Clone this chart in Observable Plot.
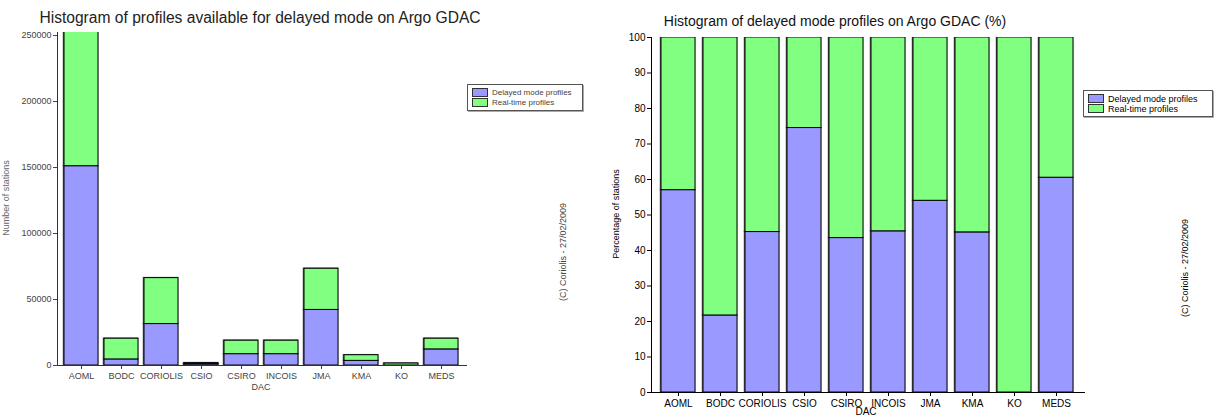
<!DOCTYPE html>
<html><head><meta charset="utf-8">
<script src="https://cdn.jsdelivr.net/npm/d3@7"></script>
<script src="https://cdn.jsdelivr.net/npm/@observablehq/plot@0.6"></script>
<style>
body{margin:0;background:#fff;font-family:"Liberation Sans",Arial,sans-serif;}
#wrap{position:relative;width:1215px;height:418px;overflow:hidden;background:#fff;}
.abs{position:absolute;white-space:nowrap;line-height:1;}
.title{color:#111;}
.rot{transform:translate(-50%,-50%) rotate(-90deg);}
.legend{position:absolute;background:#fff;border:1px solid #555;box-shadow:1px 1px 0 #aaa;padding:2px 4px;}
.legend .row{display:flex;align-items:center;height:9px;margin:1px 0;}
.legend .sw{width:14px;height:7px;border:1px solid #333;margin-right:4px;}
svg{position:absolute;top:0;}
</style></head><body><div id="wrap"></div><script>
const dacs = ["AOML","BODC","CORIOLIS","CSIO","CSIRO","INCOIS","JMA","KMA","KO","MEDS"];
const seriesNames = ["Delayed mode profiles","Real-time profiles"];
const seriesColors = ["#9999ff","#80ff80"];
// Left chart: number of stations
const delayedCounts  = [151000, 4600, 31400, 1000, 8600, 8600, 42100, 3500, 0, 12200];
const realtimeCounts = [114000,15700, 34800,  800,10200,10200, 31200, 4300, 1500, 8100];
const countTicks = [0, 50000, 100000, 150000, 200000, 250000];
// Right chart: percentage of stations
const delayedPct  = [57.0, 21.7, 45.2, 74.5, 43.5, 45.4, 54.0, 45.1, 0, 60.5];
const realtimePct = [43.0, 78.3, 54.8, 25.5, 56.5, 54.6, 46.0, 54.9, 100, 39.5];
const pctTicks = [0,10,20,30,40,50,60,70,80,90,100];

function rowsOf(a, b){
  return [...dacs.map((d,i)=>({dac:d, series:seriesNames[0], value:a[i]})),
          ...dacs.map((d,i)=>({dac:d, series:seriesNames[1], value:b[i]}))];
}
const wrap = document.getElementById("wrap");

function makeChart(o){
  const svg = Plot.plot({
    width:o.width, height:418,
    marginTop:o.mt, marginRight:o.mr, marginBottom:o.mb, marginLeft:o.ml,
    style:{fontFamily:"'Liberation Sans',Arial,sans-serif", fontSize:o.fs, color:o.color, background:"transparent"},
    x:{domain:dacs, padding:o.pad, label:null},
    y:{domain:o.ydom, label:null},
    color:{domain:seriesNames, range:seriesColors},
    marks:[
      Plot.barY(o.rows,{x:"dac", y:"value", fill:"series", stroke:"#555", strokeWidth:1.5, dx:-0.5, clip:true}),
      Plot.barY(o.rows,{x:"dac", y:"value", fill:"series", stroke:"#000", strokeWidth:1, clip:true}),
      Plot.axisY({ticks:o.ticks, tickSize:4, tickPadding:2, tickFormat:d=>String(d), label:null}),
      Plot.axisX({tickSize:4, tickPadding:3, label:null}),
      Plot.frame({anchor:"left", stroke:o.axisColor}),
      Plot.frame({anchor:"bottom", stroke:o.axisColor})
    ]
  });
  svg.style.left = o.left + "px";
  wrap.appendChild(svg);
}

makeChart({left:0, width:600, mt:32, mr:134, mb:53, ml:57, fs:"9px", color:"#444", axisColor:"#333",
  pad:0.14, ydom:[0,252300], ticks:countTicks, rows:rowsOf(delayedCounts, realtimeCounts)});
makeChart({left:600, width:615, mt:37, mr:131, mb:26, ml:51, fs:"10px", color:"#000", axisColor:"#000",
  pad:0.19, ydom:[0,100], ticks:pctTicks, rows:rowsOf(delayedPct, realtimePct)});

function text(t, x, y, cls, style){
  const d = document.createElement("div");
  d.className = "abs " + (cls||"");
  d.textContent = t;
  d.style.left = x + "px"; d.style.top = y + "px";
  Object.assign(d.style, style||{});
  wrap.appendChild(d);
  return d;
}
// titles
text("Histogram of profiles available for delayed mode on Argo GDAC", 260, 18, "title", {transform:"translate(-50%,-50%)", color:"#222", fontSize:"15.6px"});
text("Histogram of delayed mode profiles on Argo GDAC (%)", 835, 21, "title", {transform:"translate(-50%,-50%)", fontSize:"14px"});
// axis titles
text("DAC", 261, 387, "", {transform:"translate(-50%,-50%)", fontSize:"9px", color:"#444"});
text("DAC", 866, 412, "", {transform:"translate(-50%,-50%)", fontSize:"10px"});
text("Number of stations", 6, 198, "rot", {fontSize:"9px", color:"#666"});
text("Percentage of stations", 616, 214, "rot", {fontSize:"9px", color:"#000"});
// copyright
text("(C) Coriolis - 27/02/2009", 563, 252, "rot", {fontSize:"9px", color:"#444"});
text("(C) Coriolis - 27/02/2009", 1185, 268, "rot", {fontSize:"9px", color:"#000"});
// legends
function legend(x, y, w, fs, color){
  const L = document.createElement("div");
  L.className = "legend";
  L.style.left = x+"px"; L.style.top = y+"px"; L.style.width = w+"px";
  seriesNames.forEach((s,i)=>{
    const r = document.createElement("div"); r.className="row";
    const sw = document.createElement("div"); sw.className="sw"; sw.style.background = seriesColors[i];
    const t = document.createElement("span"); t.textContent = s; t.style.fontSize = fs; t.style.color = color;
    r.appendChild(sw); r.appendChild(t); L.appendChild(r);
  });
  wrap.appendChild(L);
}
legend(467, 84, 106, "8px", "#444");
legend(1083, 90, 120, "9px", "#000");
</script></body></html>
